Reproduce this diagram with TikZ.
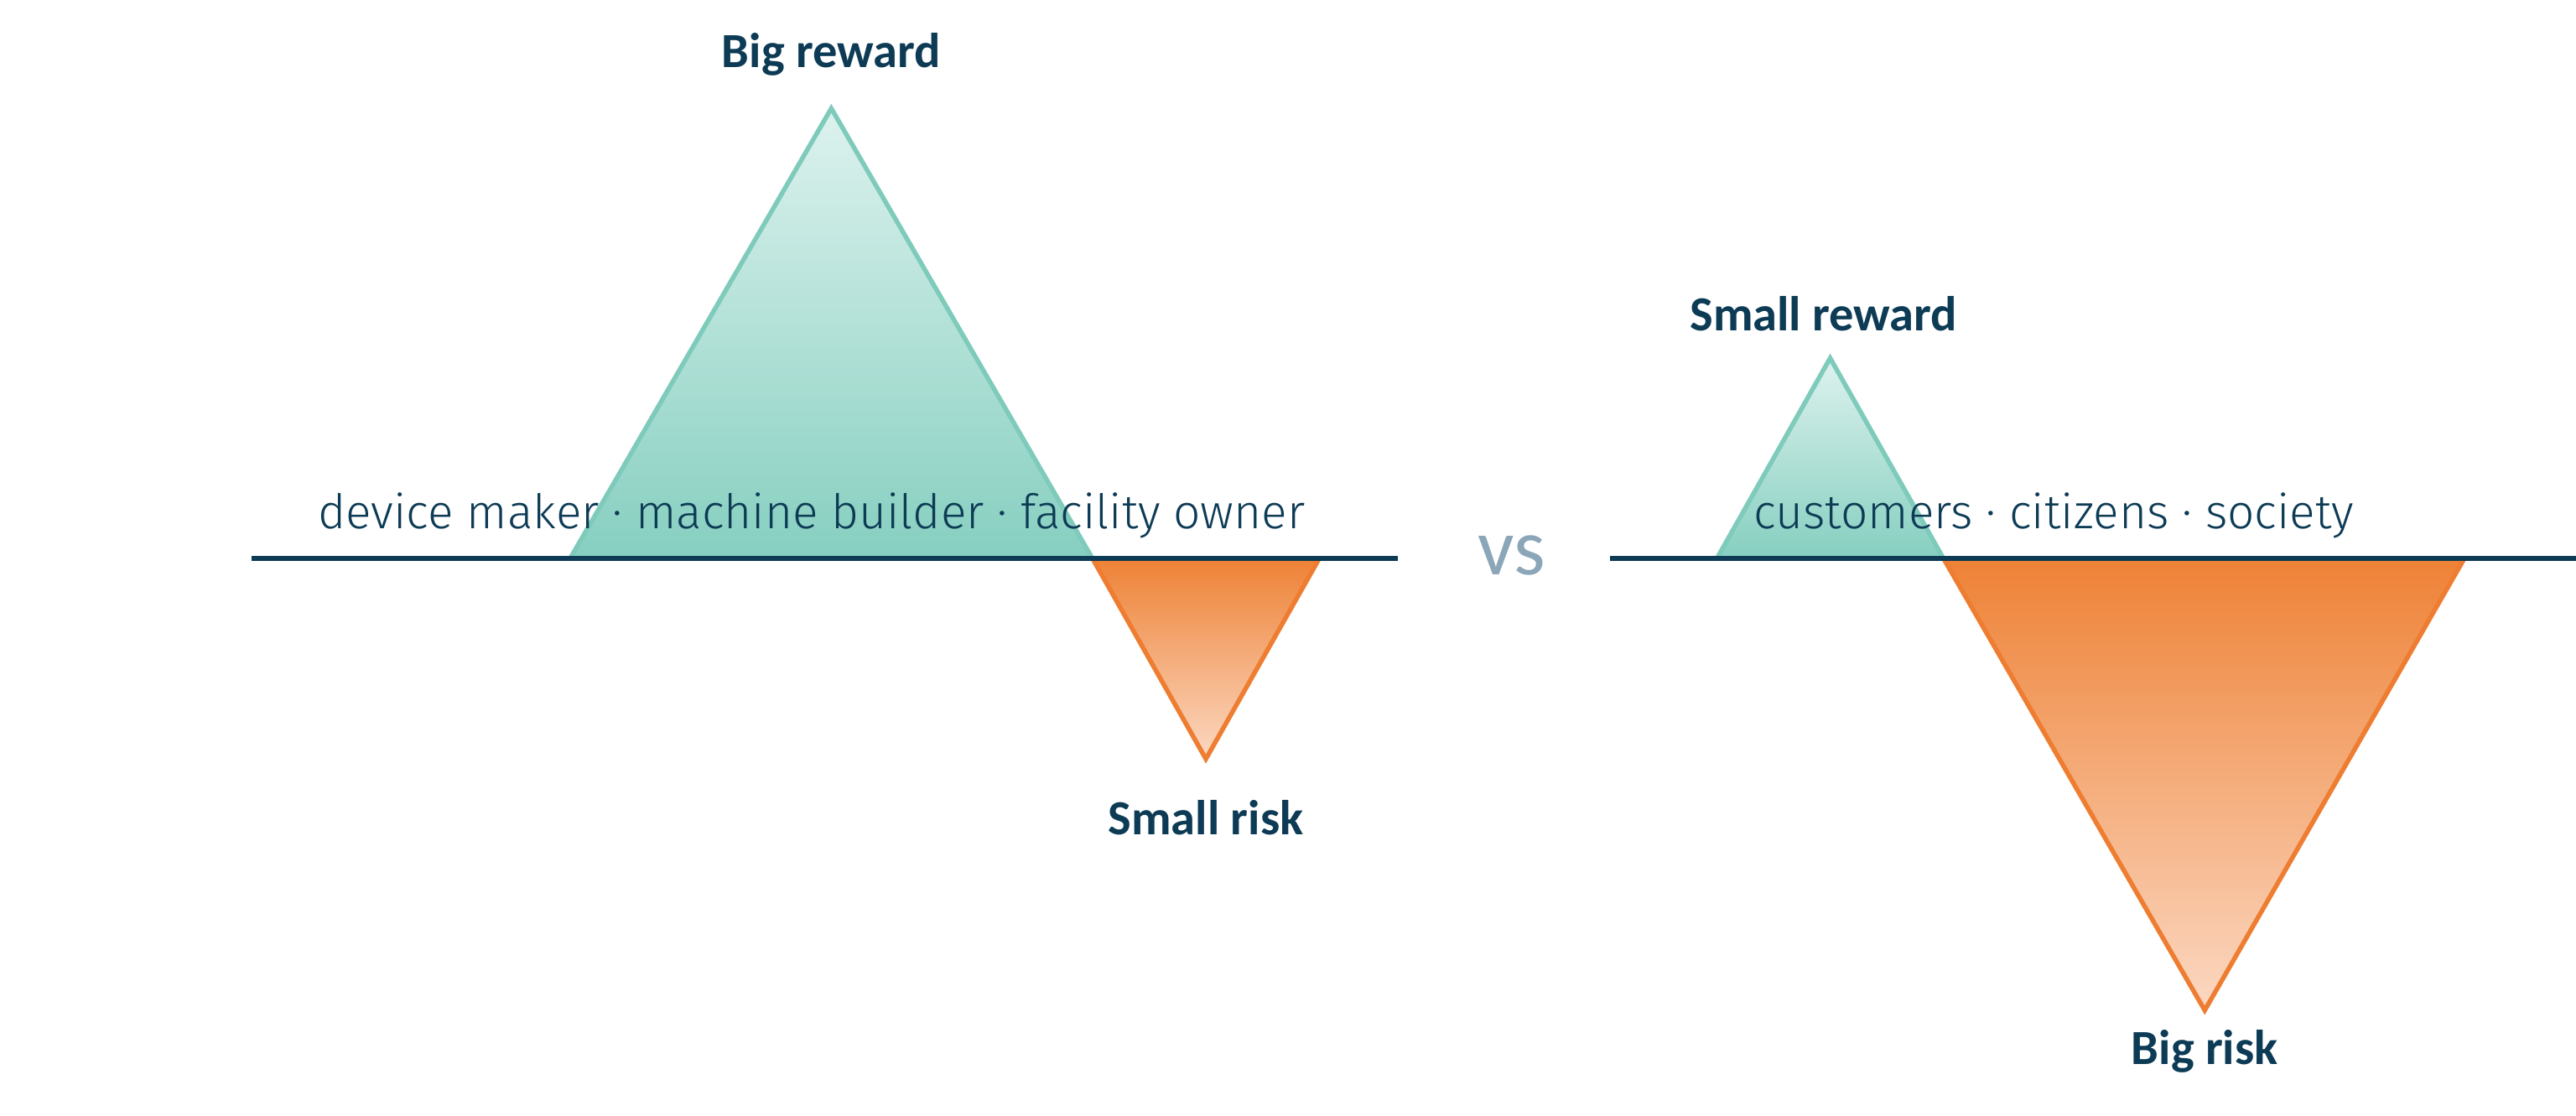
\documentclass[tikz,border=0pt]{standalone}
\usepackage{fontspec}
\setmainfont{Carlito}
\newfontfamily\thinfont{Fira Sans Light}
\begin{document}
\begin{tikzpicture}[x=0.02cm,y=-0.02cm,
  lbl/.style={font=\bfseries\fontsize{17}{20}\selectfont,text=navy},
  grp/.style={font=\thinfont\fontsize{16.5}{20}\selectfont,text=navy},
  tealtri/.style={draw=tealE,line width=1.6pt,top color=tealT,bottom color=tealB},
  orangetri/.style={draw=orE,line width=1.6pt,top color=orT,bottom color=orB},
  base/.style={draw=navy,line width=1.8pt}]
\definecolor{navy}{HTML}{0D3B55}
\definecolor{tealE}{HTML}{7FCBBB}
\definecolor{tealT}{HTML}{DDF2EE}
\definecolor{tealB}{HTML}{86CFC0}
\definecolor{orE}{HTML}{EE7D31}
\definecolor{orT}{HTML}{EE8236}
\definecolor{orB}{HTML}{FBD8C2}
\definecolor{vsc}{HTML}{8AA6B8}
\useasboundingbox (0,0) rectangle (1568,679);
% left
\path[tealtri] (506,66) -- (665,340) -- (347,340) -- cycle;
\path[orangetri] (665,340) -- (803,340) -- (734,462) -- cycle;
\coordinate (l1) at (153,340); \coordinate (l2) at (851,340);
\draw[base] (l1) -- (l2);
\node[grp] (g1) at (494,314) {device maker · machine builder · facility owner};
\node[lbl] (bigrew) at (506,33) {Big reward};
\node[lbl] (smrisk) at (734,498) {Small risk};
\node[font=\fontsize{28}{30}\selectfont,text=vsc] (vs) at (920,338) {vs};
% right
\path[tealtri] (1114,218) -- (1183,340) -- (1045,340) -- cycle;
\path[orangetri] (1183,340) -- (1500,340) -- (1342,615) -- cycle;
\coordinate (r1) at (980,340); \coordinate (r2) at (1568,340);
\draw[base] (r1) -- (r2);
\node[grp] (g2) at (1250,314) {customers · citizens · society};
\node[lbl] (smrew) at (1110,191) {Small reward};
\node[lbl] (bigrisk) at (1342,640) {Big risk};
\end{tikzpicture}
\end{document}
